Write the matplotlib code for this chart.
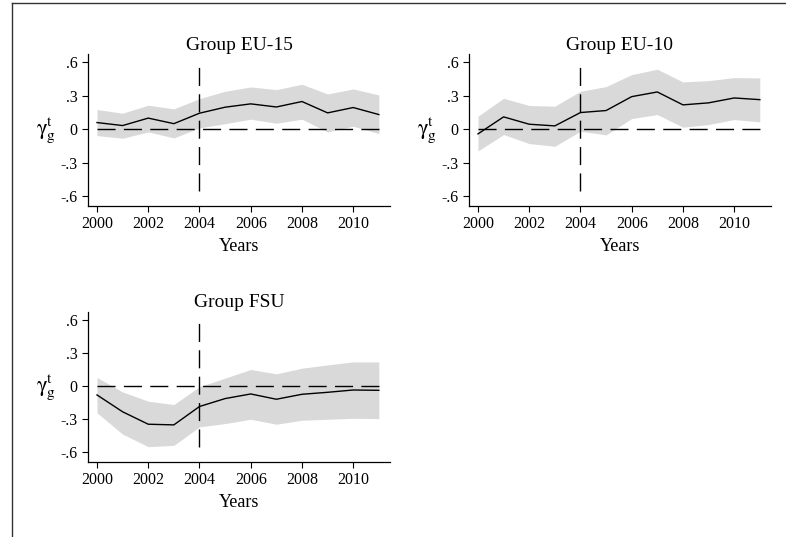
import numpy as np
import matplotlib
matplotlib.use("Agg")
import matplotlib.pyplot as plt
from matplotlib.lines import Line2D

plt.rcParams['font.family'] = ['Liberation Serif', 'DejaVu Serif']
plt.rcParams['mathtext.fontset'] = 'stix'

years = np.arange(2000, 2012)

# point estimates and confidence bands per group
eu15_est = [0.06, 0.033, 0.10, 0.05, 0.144, 0.198, 0.228, 0.20, 0.249, 0.147, 0.195, 0.132]
eu15_hi = [0.177, 0.144, 0.216, 0.183, 0.275, 0.341, 0.38, 0.356, 0.404, 0.317, 0.362, 0.308]
eu15_lo = [-0.057, -0.081, -0.024, -0.078, 0.012, 0.05, 0.09, 0.054, 0.09, -0.024, 0.027, -0.039]

eu10_est = [-0.042, 0.111, 0.045, 0.03, 0.15, 0.168, 0.293, 0.335, 0.219, 0.237, 0.281, 0.266]
eu10_hi = [0.117, 0.278, 0.213, 0.207, 0.341, 0.383, 0.491, 0.539, 0.425, 0.437, 0.464, 0.461]
eu10_lo = [-0.195, -0.048, -0.129, -0.153, -0.018, -0.051, 0.096, 0.132, 0.018, 0.042, 0.087, 0.066]

fsu_est = [-0.081, -0.234, -0.347, -0.353, -0.186, -0.114, -0.072, -0.12, -0.075, -0.057, -0.036, -0.039]
fsu_hi = [0.078, -0.054, -0.138, -0.168, -0.006, 0.072, 0.15, 0.111, 0.162, 0.192, 0.219, 0.219]
fsu_lo = [-0.243, -0.437, -0.551, -0.539, -0.371, -0.341, -0.302, -0.347, -0.311, -0.302, -0.293, -0.296]

groups = ["Group EU-15", "Group EU-10", "Group FSU"]
yticks = [-0.6, -0.3, 0, 0.3, 0.6]
ytick_labels = ["-.6", "-.3", "0", ".3", ".6"]
xticks = [2000, 2002, 2004, 2006, 2008, 2010]

fig = plt.figure(figsize=(7.86, 5.37), dpi=100)

# outer frame: only top and left edges
fig.add_artist(Line2D([12/786, 12/786], [0, 1 - 3/537], color='#333333', lw=1.0))
fig.add_artist(Line2D([12/786, 1], [1 - 3/537, 1 - 3/537], color='#333333', lw=1.0))

positions = [
    [0.112, 0.6164, 0.384, 0.283],
    [0.5967, 0.6164, 0.384, 0.283],
    [0.112, 0.1397, 0.384, 0.280],
]
data = [(eu15_est, eu15_lo, eu15_hi), (eu10_est, eu10_lo, eu10_hi), (fsu_est, fsu_lo, fsu_hi)]

for pos, title, (est, lo, hi) in zip(positions, groups, data):
    ax = fig.add_axes(pos)
    ax.fill_between(years, lo, hi, color='#d9d9d9', lw=0)
    ax.plot(years, est, color='black', lw=1.0)
    ax.plot([2000, 2011], [0, 0], color='black', lw=1.0, dashes=(13, 6))
    ax.plot([2004, 2004], [-0.557, 0.605], color='black', lw=1.0, dashes=(13, 6))

    ax.set_xlim(1999.65, 2011.43)
    ax.set_ylim(-0.69, 0.676)
    ax.set_xticks(xticks)
    ax.set_yticks(yticks)
    ax.set_yticklabels(ytick_labels)
    ax.tick_params(labelsize=11.5, length=4, width=0.8, direction='out')
    for s in ['top', 'right']:
        ax.spines[s].set_visible(False)
    for s in ['left', 'bottom']:
        ax.spines[s].set_linewidth(0.9)

    ax.set_title(title, fontsize=14, pad=3)
    ax.set_xlabel("Years", fontsize=13, labelpad=4)
    ax.set_ylabel(r"$\mathrm{\gamma}^{\mathrm{t}}_{\mathrm{g}}$", fontsize=16,
                  rotation=0, va='center', ha='center')
    ax.yaxis.set_label_coords(-0.14, 0.5)

fig.savefig("out.png", dpi=100)
